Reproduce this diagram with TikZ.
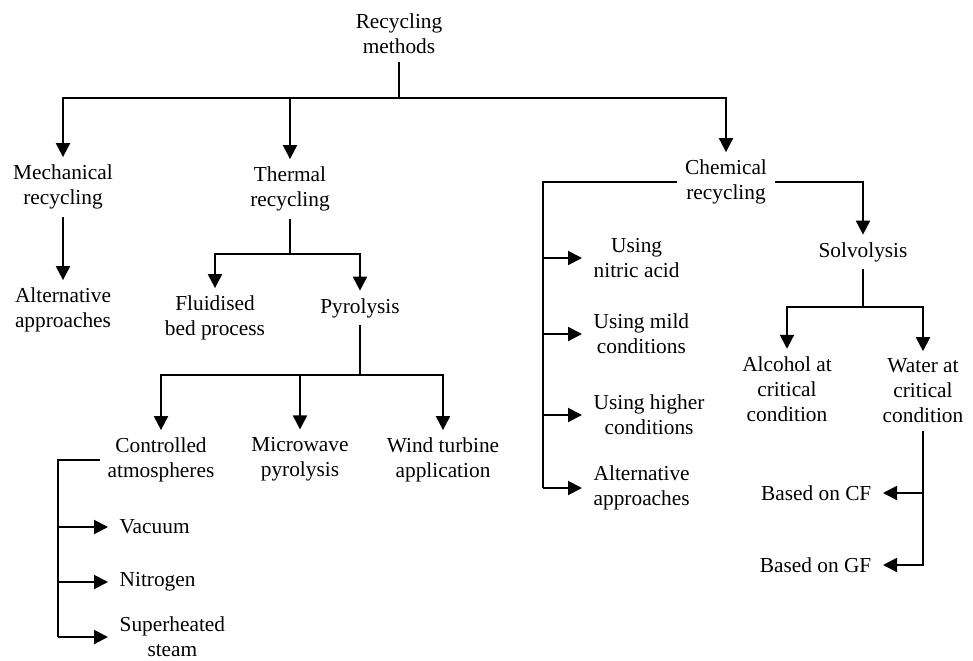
\documentclass[tikz,border=0pt]{standalone}
\usepackage{fontspec}
\setmainfont{Liberation Serif}
\usetikzlibrary{arrows.meta}

\tikzset{every picture/.style={line width=1.5pt}}
\tikzset{
  lbl/.style={align=center, inner sep=5pt, font=\fontsize{16}{18.8}\selectfont},
  leaf/.style={lbl, inner xsep=8pt},
  arr/.style={-{Triangle[length=10.5pt,width=10.5pt]}}
}

\begin{document}
\begin{tikzpicture}[x=0.75pt,y=0.75pt,yscale=-1,xscale=1]
\useasboundingbox (0,0) rectangle (973,660);

% Text Node
\node[lbl] (root) at (399,34) {Recycling\\methods};
% Text Node
\node[lbl] (mech) at (63,187) {Mechanical\\recycling};
% Text Node
\node[lbl] (therm) at (290,189) {Thermal\\recycling};
% Text Node
\node[lbl] (chem) at (726,182) {Chemical\\recycling};
% Text Node
\node[lbl] (alt1) at (63,310) {Alternative\\approaches};
% Text Node
\node[lbl] (fluid) at (215,318) {Fluidised\\bed process};
% Text Node
\node[lbl] (pyro) at (360,308) {Pyrolysis};
% Text Node
\node[lbl] (ctrl) at (161,460) {Controlled\\atmospheres};
% Text Node
\node[lbl] (micro) at (300,459) {Microwave\\pyrolysis};
% Text Node
\node[lbl] (wind) at (443,460) {Wind turbine\\application};
% Text Node
\node[leaf,anchor=west] (vac) at (108,527) {Vacuum};
% Text Node
\node[leaf,anchor=west] (nitro) at (108,582) {Nitrogen};
% Text Node
\node[leaf,anchor=west,inner ysep=0pt] (steam) at (108,637) {Superheated\\steam};
% Text Node
\node[leaf,anchor=west] (nitric) at (582,258) {Using\\nitric acid};
% Text Node
\node[leaf,anchor=west] (mild) at (582,334) {Using mild\\conditions};
% Text Node
\node[leaf,anchor=west] (higher) at (582,415) {Using higher\\conditions};
% Text Node
\node[leaf,anchor=west] (alt2) at (582,488) {Alternative\\approaches};
% Text Node
\node[lbl] (solv) at (863,252) {Solvolysis};
% Text Node
\node[lbl] (alc) at (787,389) {Alcohol at\\critical\\condition};
% Text Node
\node[lbl] (water) at (923,391) {Water at\\critical\\condition};
% Text Node
\node[leaf,anchor=east] (cf) at (883,493) {Based on CF};
% Text Node
\node[leaf,anchor=east] (gf) at (883,565) {Based on GF};

%Lines: recycling methods
\coordinate (j0) at (399,98);
\draw (root) -- (j0);
\draw[arr] (j0) -| (mech);
\draw[arr] (j0) -| (therm);
\draw[arr] (j0) -| (chem);
\draw[arr] (mech) -- (alt1);

%Lines: thermal recycling
\coordinate (j1) at (290,254);
\draw (therm) -- (j1);
\draw[arr] (j1) -| (fluid);
\draw[arr] (j1) -| (pyro);

%Lines: pyrolysis
\coordinate (j2) at (360,375);
\draw (pyro) -- (j2);
\draw[arr] (j2) -| (ctrl);
\draw[arr] (j2) -| (micro);
\draw[arr] (j2) -| (wind);

%Lines: controlled atmospheres
\coordinate (b1) at (58,460);
\draw (ctrl.west) -- (b1) -- (b1 |- steam);
\foreach \n in {vac,nitro,steam} \draw[arr] (b1 |- \n) -- (\n.west);

%Lines: chemical recycling
\coordinate (b2) at (543,182);
\draw (chem.west) -- (b2) -- (b2 |- alt2);
\foreach \n in {nitric,mild,higher,alt2} \draw[arr] (b2 |- \n) -- (\n.west);
\draw[arr] (chem.east) -| (solv);

%Lines: solvolysis
\coordinate (j3) at (863,307);
\draw (solv) -- (j3);
\draw[arr] (j3) -| (alc);
\draw[arr] (j3) -| (water);
\draw[arr] (water) |- (gf.east);
\draw[arr] (water |- cf) -- (cf.east);

\end{tikzpicture}
\end{document}
